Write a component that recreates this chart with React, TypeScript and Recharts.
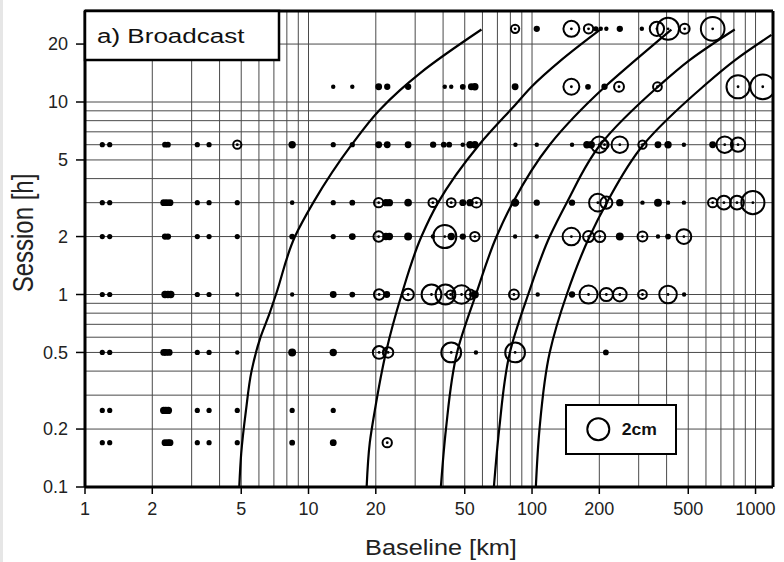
import React from 'react';
import { ComposedChart, Scatter, Line, XAxis, YAxis, ReferenceLine } from 'recharts';

// ---------- axes ----------
const xTicks = [1, 2, 5, 10, 20, 50, 100, 200, 500, 1000];
const yTicks = [0.1, 0.2, 0.5, 1, 2, 5, 10, 20];
const xGrid = [2, 3, 4, 5, 6, 7, 8, 9, 10, 20, 30, 40, 50, 60, 70, 80, 90, 100, 200, 300, 400, 500, 600, 700, 800, 900, 1000];
const yGrid = [0.2, 0.3, 0.4, 0.5, 0.6, 0.7, 0.8, 0.9, 1, 2, 3, 4, 5, 6, 7, 8, 9, 10, 20];
const xDomain = [1, 1197];
const yDomain = [0.1, 29.7];

// ---------- sessions (h) and points: [baseline km, error cm] ----------
const sessions = [24, 12, 6, 3, 2, 1, 0.5, 0.25, 0.17];
const row24 = [[84, 0.75], [105, 0.5], [150, 1.45], [179, 0.85], [193, 0.4], [203, 0.33], [215, 0.33], [247, 0.5], [310, 0.33], [362, 1.3], [406, 2.0], [482, 0.9], [643, 2.15]];
const row12 = [[12.9, 0.33], [15.7, 0.33], [20.6, 0.55], [22.5, 0.5], [27.9, 0.5], [40.7, 0.33], [43.5, 0.33], [49, 0.45], [53.5, 0.55], [55.5, 0.6], [84, 0.55], [150, 1.45], [178, 0.45], [211, 0.5], [245, 0.9], [364, 0.8], [835, 2.1], [1077, 2.25]];
const row6 = [[1.195, 0.4], [1.29, 0.4], [2.28, 0.45], [2.35, 0.45], [3.18, 0.4], [3.59, 0.4], [4.8, 0.75], [8.45, 0.6], [12.9, 0.4], [15.7, 0.4], [20.6, 0.55], [22.5, 0.55], [27.9, 0.55], [36.1, 0.5], [40.3, 0.45], [42.6, 0.45], [49, 0.35], [52.8, 0.6], [55.5, 0.6], [84.3, 0.33], [105, 0.33], [151, 0.33], [176, 0.6], [184, 0.6], [200, 1.5], [211, 0.75], [247, 1.5], [312, 0.75], [366, 0.55], [406, 0.6], [478, 0.33], [643, 0.55], [728, 1.5], [835, 1.3]];
const row3 = [[1.195, 0.4], [1.29, 0.4], [2.25, 0.55], [2.32, 0.55], [2.4, 0.55], [3.18, 0.4], [3.59, 0.4], [4.8, 0.4], [8.45, 0.35], [12.9, 0.4], [15.7, 0.45], [20.6, 0.85], [22.2, 0.6], [23, 0.6], [27.9, 0.62], [36, 0.8], [43.5, 0.8], [49, 0.55], [52.8, 0.6], [56.4, 0.9], [84, 0.68], [105, 0.5], [151, 0.5], [197, 1.6], [215, 1.1], [247, 0.6], [312, 0.33], [366, 0.65], [406, 0.33], [478, 0.33], [643, 0.85], [722, 1.25], [826, 1.25], [973, 2.1]];
const row2 = [[1.195, 0.4], [1.29, 0.4], [2.28, 0.5], [2.35, 0.5], [3.18, 0.4], [3.59, 0.4], [4.8, 0.4], [8.45, 0.45], [12.9, 0.4], [15.7, 0.55], [20.6, 0.95], [22.2, 0.6], [23, 0.6], [27.9, 0.65], [36, 0.33], [40.7, 2.1], [43.5, 0.6], [49, 0.5], [55.5, 0.85], [84, 0.33], [105, 0.33], [150, 1.6], [179, 1.0], [201, 1.0], [247, 0.65], [312, 0.9], [366, 0.33], [406, 0.45], [478, 1.35]];
const row1 = [[1.195, 0.4], [1.29, 0.4], [2.28, 0.6], [2.35, 0.6], [2.42, 0.6], [3.18, 0.4], [3.59, 0.4], [4.8, 0.33], [8.45, 0.33], [12.9, 0.55], [15.7, 0.45], [20.7, 0.95], [22.4, 0.55], [27.9, 1.05], [35.5, 1.8], [41, 1.8], [43.2, 0.75], [48.4, 1.7], [52.8, 0.9], [55.5, 0.65], [83, 0.9], [106, 0.33], [151, 0.5], [179, 1.65], [215, 1.2], [247, 1.25], [312, 0.8], [406, 1.6], [479, 0.33]];
const row05 = [[1.195, 0.4], [1.29, 0.4], [2.25, 0.55], [2.3, 0.55], [2.38, 0.55], [3.18, 0.4], [3.59, 0.4], [4.8, 0.33], [8.45, 0.65], [12.9, 0.6], [20.7, 1.15], [22.7, 0.95], [43.5, 1.8], [56.1, 0.33], [84, 1.8], [214, 0.45]];
const row025 = [[1.195, 0.4], [1.29, 0.4], [2.25, 0.6], [2.3, 0.6], [2.36, 0.6], [3.18, 0.4], [3.59, 0.4], [4.8, 0.4], [8.45, 0.4], [12.9, 0.4]];
const row017 = [[1.195, 0.4], [1.29, 0.4], [2.28, 0.55], [2.35, 0.55], [2.4, 0.55], [3.18, 0.4], [3.59, 0.4], [4.8, 0.4], [8.45, 0.45], [12.9, 0.55], [22.5, 0.85]];
const rows = [row24, row12, row6, row3, row2, row1, row05, row025, row017];

// ---------- curves: [baseline km, session h] ----------
const curveA = [[4.9, 0.1], [5.0, 0.15], [5.25, 0.25], [5.56, 0.4], [6.1, 0.6], [6.7, 0.8], [7.15, 1], [8.7, 2], [10.5, 3], [15.6, 6], [20.8, 9.1], [25.6, 11.5], [31.5, 14.1], [59.4, 23.8]];
const curveB = [[18.2, 0.1], [18.8, 0.17], [19.8, 0.25], [22.2, 0.5], [26.1, 1], [32, 2], [38, 3], [58, 6], [85, 9.8], [99.5, 12], [135, 16.5], [201, 23.7]];
const curveC = [[39.1, 0.1], [41.2, 0.2], [46.2, 0.5], [56.1, 1], [69.4, 2], [82, 3], [120, 6], [212, 12], [290, 16.5], [420, 23.8]];
const curveD = [[67.5, 0.1], [71.3, 0.2], [79.6, 0.5], [96.1, 1], [120, 2], [143, 3], [202, 6], [366, 12], [507, 16.5], [807, 23.8]];
const curveE = [[104, 0.1], [108, 0.2], [120, 0.5], [143, 1], [181, 2], [216, 3], [315, 6], [582, 12], [810, 16.5], [1178, 22.3]];
const curves = [curveA, curveB, curveC, curveD, curveE];

const R_PER_CM = 5.5;
const FONT = '"Liberation Sans", Arial, Helvetica, sans-serif';

const points = rows.flatMap((row, i) => row.map(([x, e]) => ({ x, y: sessions[i], e })));
const curveData = curves.map((c) => c.map(([x, y]) => ({ x, y })).reverse());

const Bubble = (props: any) => {
  const { cx, cy, payload } = props;
  if (cx == null || cy == null) return <g />;
  const r = payload.e * R_PER_CM;
  if (payload.e < 0.7) {
    return <circle cx={cx} cy={cy} r={Math.max(r + 0.4, 2)} fill="#000" />;
  }
  return (
    <g>
      <circle cx={cx} cy={cy} r={r} fill="none" stroke="#000" strokeWidth={2} />
      <circle cx={cx} cy={cy} r={1.4} fill="#000" />
    </g>
  );
};

export default function App() {
  const tickStyle = { fill: '#222', fontSize: 18, fontFamily: FONT };
  return (
    <div style={{ position: 'absolute', left: 0, top: 0, width: 784, height: 562, background: '#fff' }}>
      <ComposedChart width={784} height={562} margin={{ top: 3, right: 0, bottom: 0, left: 0 }}>
        <XAxis
          xAxisId="b"
          dataKey="x"
          type="number"
          scale="log"
          domain={xDomain}
          allowDataOverflow
          ticks={xTicks}
          interval={0}
          height={75}
          tickSize={7}
          tickMargin={8}
          tick={tickStyle}
          tickLine={{ stroke: '#000', strokeWidth: 1.5 }}
          axisLine={{ stroke: '#000', strokeWidth: 3 }}
        />
        <XAxis
          xAxisId="t"
          orientation="top"
          type="number"
          scale="log"
          domain={xDomain}
          allowDataOverflow
          ticks={xTicks}
          interval={0}
          height={8}
          tickSize={8}
          tick={false}
          tickLine={{ stroke: '#000', strokeWidth: 1.5 }}
          axisLine={{ stroke: '#000', strokeWidth: 3 }}
        />
        <YAxis
          yAxisId="l"
          dataKey="y"
          type="number"
          scale="log"
          domain={yDomain}
          allowDataOverflow
          ticks={yTicks}
          interval={0}
          width={85}
          tickSize={9}
          tickMargin={8}
          tick={tickStyle}
          tickLine={{ stroke: '#000', strokeWidth: 1.5 }}
          axisLine={{ stroke: '#000', strokeWidth: 3 }}
        />
        <YAxis
          yAxisId="r"
          orientation="right"
          type="number"
          scale="log"
          domain={yDomain}
          allowDataOverflow
          ticks={yTicks}
          width={11}
          tick={false}
          tickLine={false}
          axisLine={{ stroke: '#000', strokeWidth: 3 }}
        />
        {xGrid.map((v) => (
          <ReferenceLine key={'gx' + v} x={v} xAxisId="b" yAxisId="l" stroke="#4a4a4a" strokeWidth={1} />
        ))}
        {yGrid.map((v) => (
          <ReferenceLine key={'gy' + v} y={v} xAxisId="b" yAxisId="l" stroke="#4a4a4a" strokeWidth={1} />
        ))}
        {curveData.map((d, i) => (
          <Line
            key={'c' + i}
            data={d}
            dataKey="y"
            xAxisId="b"
            yAxisId="l"
            type="monotoneY"
            stroke="#000"
            strokeWidth={2.2}
            dot={false}
            activeDot={false}
            isAnimationActive={false}
          />
        ))}
        <Scatter data={points} dataKey="y" xAxisId="b" yAxisId="l" shape={Bubble} isAnimationActive={false} />
      </ComposedChart>
      <svg width={784} height={562} style={{ position: 'absolute', left: 0, top: 0, pointerEvents: 'none' }}>
        <rect x={0} y={0} width={3} height={562} fill="#e6e6e6" />
        <rect x={777} y={495} width={7} height={35} fill="#fff" />
        <rect x={85} y={11} width={194} height={49} fill="#fff" stroke="#000" strokeWidth={2.5} />
        <text x={97} y={43.3} fontSize={21} fontFamily={FONT} fill="#111" transform="translate(97,0) scale(1.24,1) translate(-97,0)">a) Broadcast</text>
        <rect x={566} y={405} width={110} height={49} fill="#fff" stroke="#000" strokeWidth={2} />
        <circle cx={598.3} cy={429.3} r={11} fill="none" stroke="#000" strokeWidth={2} />
        <text x={621.7} y={435} fontSize={16} fontWeight="bold" fontFamily={FONT} fill="#111" transform="translate(621.7,0) scale(1.1,1) translate(-621.7,0)">2cm</text>
        <text x={441} y={555} fontSize={22} fontFamily={FONT} fill="#222" textAnchor="middle" transform="translate(441,0) scale(1.15,1) translate(-441,0)">Baseline [km]</text>
        <text x={0} y={0} fontSize={24} fontFamily={FONT} fill="#222" textAnchor="middle" transform="translate(33,233) scale(1.2,1) rotate(-90)">Session [h]</text>
      </svg>
    </div>
  );
}
